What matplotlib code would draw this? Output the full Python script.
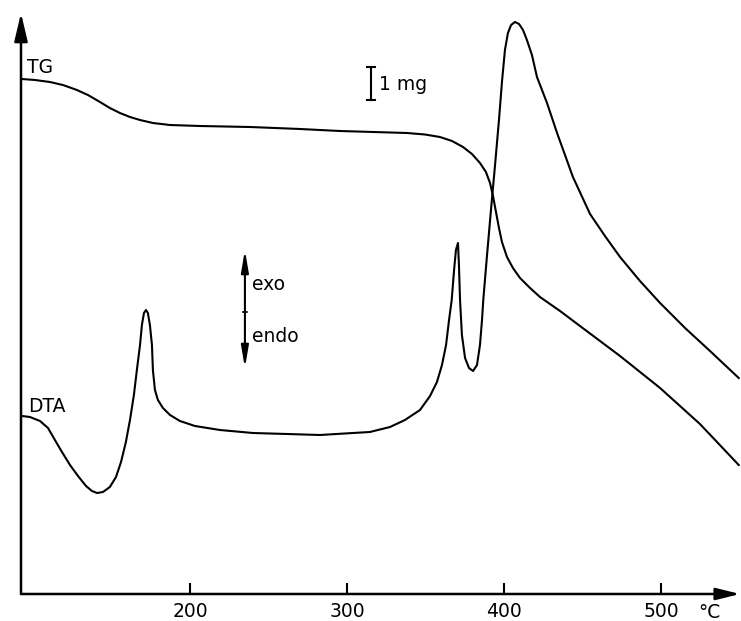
import matplotlib
matplotlib.use('Agg')
import matplotlib.pyplot as plt

# TG curve (temperature in °C, signal in arbitrary units)
tg_temp = [93, 101.3, 110.8, 119.1, 128.0, 135.0, 142.7, 149.0, 155.4, 161.8,
           168.2, 176.4, 187.3, 206.4, 238.2, 270.1, 295.5, 338.2, 349.7,
           359.2, 366.9, 373.9, 379.6, 384.7, 388.5, 391.1, 393.0, 394.9,
           396.8, 398.7, 401.9, 405.7, 410.2, 416.6, 422.9, 435.7, 448.4,
           473.9, 499.4, 524.8, 549.5]
tg_signal = [515, 514, 512, 509, 504, 499, 492, 486, 481, 477,
             474, 471, 469, 468, 467, 465, 463, 461, 459.5,
             457, 453, 447, 440, 431, 422, 411, 398, 382,
             366, 352, 337, 326, 316, 306, 297, 283, 268,
             238, 206, 170, 129]

# DTA curve
dta_temp = [93, 98.1, 104.5, 109.6, 114.0, 118.5, 123.6, 128.7, 133.8, 137.6,
            140.8, 144.6, 149.0, 152.9, 156.1, 159.2, 161.8, 164.3, 166.2,
            168.2, 169.4, 170.7, 172.0, 173.2, 174.5, 175.8, 176.4, 177.7,
            179.6, 182.8, 187.3, 193.6, 203.2, 219.1, 240.1, 261.8, 282.8,
            303.8, 314.6, 327.4, 336.9, 346.5, 352.9, 357.3, 360.5, 363.1,
            365.0, 366.7, 368.2, 369.4, 370.7, 371.3, 372.0, 373.2, 375.2,
            377.7, 380.3, 382.8, 384.7, 386.0, 386.8, 389.2, 391.7, 394.3,
            396.8, 398.7, 400.6, 402.5, 404.5, 407.0, 409.6, 412.1, 414.6,
            417.8, 421.0, 427.4, 433.8, 443.9, 454.8, 464.3, 473.9, 486.6,
            499.4, 515.3, 531.2, 549.5]
dta_signal = [178, 177, 173, 166, 154, 142, 129, 118, 108, 103,
              101, 102, 107, 117, 132, 152, 174, 199, 224,
              249, 269, 281, 284, 281, 269, 249, 224, 204,
              194, 186, 179, 173, 168, 164, 161, 160, 159,
              161, 162, 167, 174, 184, 198, 212, 229, 249,
              274, 294, 324, 344, 351, 329, 294, 259, 236,
              226, 223, 229, 249, 274, 294, 339, 384, 429,
              474, 512, 544, 561, 569, 572, 570, 564, 554,
              539, 517, 491, 461, 417, 380, 358, 337, 313,
              291, 266, 243, 216]

xticks = [200, 300, 400, 500]

fig = plt.figure(figsize=(7.41, 6.21), dpi=100)
ax = fig.add_axes([21 / 741, 27 / 621, 719 / 741, 581 / 621])
ax.set_xlim(92.4, 550.3)
ax.set_ylim(0, 581)

# curves
ax.plot(tg_temp, tg_signal, color='black', lw=1.5, solid_joinstyle='round')
ax.plot(dta_temp, dta_signal, color='black', lw=1.5, solid_joinstyle='round')

# axes with arrow heads
for s in ['top', 'right', 'left', 'bottom']:
    ax.spines[s].set_visible(False)
ax.annotate('', xy=(0, 1), xytext=(0, 0), xycoords='axes fraction',
            arrowprops=dict(arrowstyle='-|>,head_length=1.7,head_width=0.4',
                            lw=1.8, color='black', shrinkA=0, shrinkB=0))
ax.annotate('', xy=(1, 0), xytext=(0, 0), xycoords='axes fraction',
            arrowprops=dict(arrowstyle='-|>,head_length=1.45,head_width=0.36',
                            lw=1.8, color='black', shrinkA=0, shrinkB=0))

ax.set_yticks([])
ax.set_xticks(xticks)
ax.set_xticklabels([str(t) for t in xticks])
ax.tick_params(axis='x', direction='in', length=8, width=1.5, pad=6,
               labelsize=13.5)
ax.annotate('°C', xy=(531, 0), xytext=(0, -6.5), textcoords='offset points',
            ha='center', va='top', fontsize=13.5)

# curve labels
ax.text(96, 521, 'TG', fontsize=13.5, ha='left', va='baseline')
ax.text(97, 182, 'DTA', fontsize=13.5, ha='left', va='baseline')

# 1 mg scale bar
ax.plot([315.3, 315.3], [494, 527], color='black', lw=1.5)
ax.plot([313.0, 317.6], [527, 527], color='black', lw=1.5)
ax.plot([313.0, 317.6], [494, 494], color='black', lw=1.5)
ax.text(320.4, 504, '1 mg', fontsize=13.5, ha='left', va='baseline')

# exo / endo arrows
ax.annotate('', xy=(235, 344), xytext=(235, 282),
            arrowprops=dict(arrowstyle='-|>,head_length=1.3,head_width=0.22',
                            lw=1.5, color='black', shrinkA=0, shrinkB=0))
ax.annotate('', xy=(235, 226), xytext=(235, 282),
            arrowprops=dict(arrowstyle='-|>,head_length=1.3,head_width=0.22',
                            lw=1.5, color='black', shrinkA=0, shrinkB=0))
ax.plot([233.5, 236.5], [282, 282], color='black', lw=1.2)
ax.text(239.5, 304, 'exo', fontsize=13.5, ha='left', va='baseline')
ax.text(239.5, 252, 'endo', fontsize=13.5, ha='left', va='baseline')

plt.savefig('out.png', dpi=100)
plt.close()
